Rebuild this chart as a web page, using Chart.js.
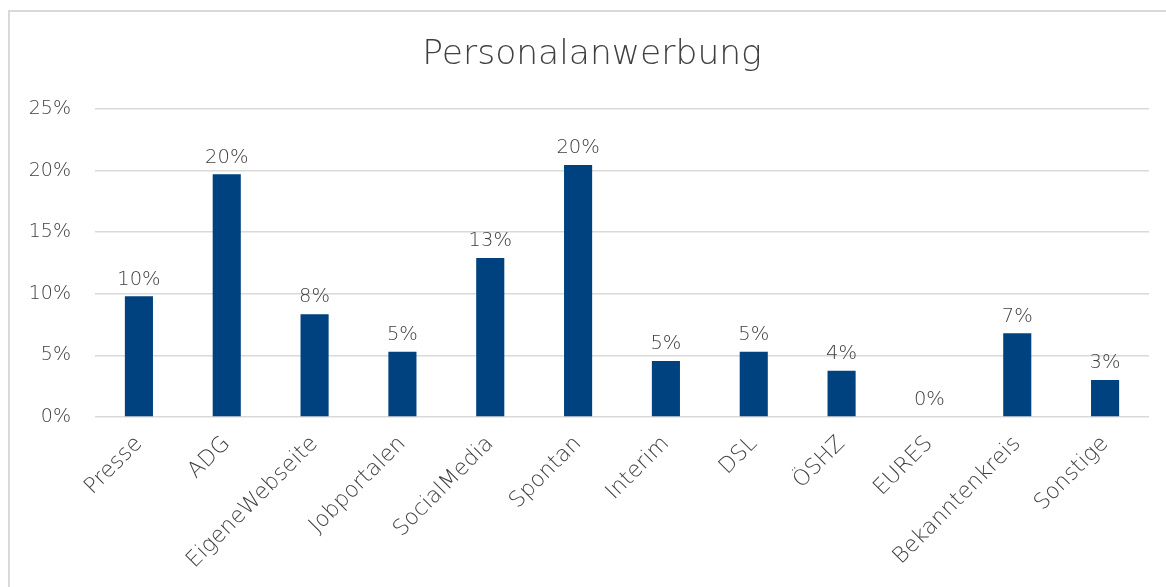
<!DOCTYPE html>
<html>
<head>
<meta charset="utf-8">
<script src="https://cdn.jsdelivr.net/npm/chart.js@4/dist/chart.umd.min.js"></script>
<style>
  html,body{margin:0;padding:0;background:#fff;overflow:hidden;}
  #wrap{position:absolute;left:0;top:0;width:1166px;height:587px;}
  #frame{position:absolute;left:8px;top:10px;width:1200px;height:700px;border:2px solid #d9d9d9;pointer-events:none;}
</style>
</head>
<body>
<div id="wrap"><canvas id="chart1" width="1166" height="587"></canvas></div>
<div id="frame"></div>
<script>
const categories = ["Presse","ADG","EigeneWebseite","Jobportalen","SocialMedia","Spontan","Interim","DSL","ÖSHZ","EURES","Bekanntenkreis","Sonstige"];
const shares = [9.8, 19.7, 8.35, 5.3, 12.9, 20.45, 4.55, 5.3, 3.75, 0, 6.8, 3.0];
const yTicks = [0, 5, 10, 15, 20, 25];

const textColor = "#404040";
const fontFam = "'DejaVu Sans', sans-serif";

// simple value labels above the bars
const barLabels = {
  id:"barLabels",
  afterLayout(chart){
    // title sits centred over the plot, not the whole canvas
    if(chart.titleBlock) chart.titleBlock.left += 35;
  },
  afterDatasetsDraw(chart){
    const ctx = chart.ctx;
    const meta = chart.getDatasetMeta(0);
    ctx.save();
    ctx.fillStyle = textColor;
    ctx.font = "200 19.5px " + fontFam;
    ctx.textAlign = "center";
    ctx.textBaseline = "bottom";
    meta.data.forEach((bar,i)=>{
      ctx.fillText(Math.round(shares[i]) + "%", bar.x, bar.y - 7);
    });
    ctx.restore();
  }
};

new Chart(document.getElementById("chart1"),{
  type:"bar",
  data:{
    labels:categories,
    datasets:[{
      label:"Personalanwerbung",
      data:shares,
      backgroundColor:"#00427f",
      categoryPercentage:1,
      barPercentage:0.32
    }]
  },
  options:{
    responsive:false,
    animation:false,
    layout:{padding:{left:0,right:17,top:0,bottom:0}},
    plugins:{
      legend:{display:false},
      tooltip:{enabled:false},
      title:{
        display:true,
        text:"Personalanwerbung",
        color:textColor,
        font:{family:fontFam,size:34.5,weight:200},
        padding:{top:34,bottom:33.6}
      }
    },
    scales:{
      x:{
        grid:{display:false},
        border:{display:false},
        ticks:{
          color:textColor,
          font:{family:fontFam,size:22,weight:200},
          minRotation:45,
          maxRotation:45,
          padding:6
        },
        afterFit(s){ s.height = 170; }
      },
      y:{
        min:0,
        max:25,
        afterBuildTicks(s){ s.ticks = yTicks.map(v=>({value:v})); },
        grid:{color:"#d9d9d9",lineWidth:1.5,drawTicks:false},
        border:{display:false},
        ticks:{
          color:textColor,
          font:{family:fontFam,size:19,weight:200},
          padding:24,
          callback:v=>v+"%"
        },
        afterFit(s){ s.width = 95; }
      }
    }
  },
  plugins:[barLabels]
});
</script>
</body>
</html>
